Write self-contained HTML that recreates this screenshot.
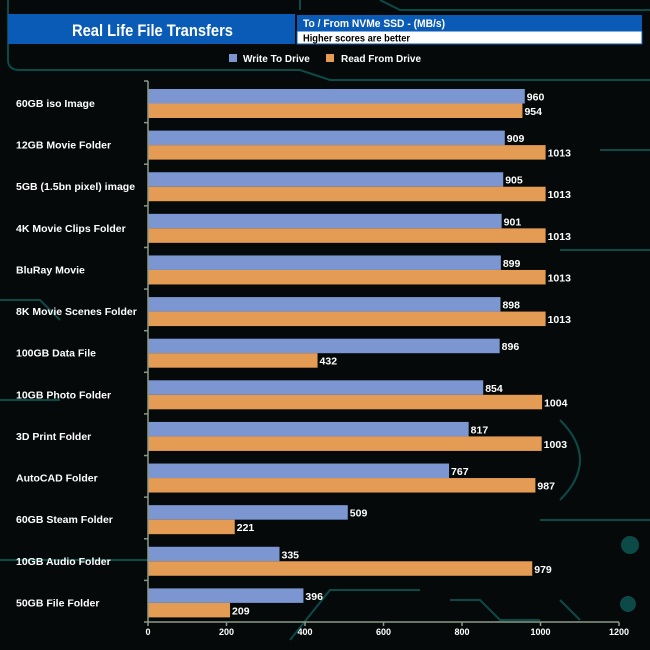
<!DOCTYPE html>
<html><head><meta charset="utf-8"><style>
body{margin:0;width:650px;height:650px;background:#060909;overflow:hidden;font-family:"Liberation Sans",Arial,sans-serif}
svg{display:block}
</style></head><body>
<svg width="650" height="650" xmlns="http://www.w3.org/2000/svg">
<g stroke="#0c4a48" stroke-width="2" fill="none">
<path d="M8 0 V60 Q8 70 20 70 H300 L330 80 H650"/>
<path d="M300 0 V10 M380 0 L400 10 H650"/>
<path d="M0 560 H150 M290 640 L330 590 H420"/>
<path d="M450 600 H480 L500 620 H540 M560 600 L580 620"/>
<path d="M600 150 H650 M560 250 H650 M560 420 Q600 460 560 500 M540 520 H650"/>
<circle cx="630" cy="545" r="8" fill="#0c4a48"/>
<circle cx="628" cy="604" r="7" fill="#0c4a48"/>
<path d="M0 400 H60 M0 300 L40 300 L60 320"/>
</g>
<rect x="8" y="14" width="287" height="30" fill="#0a5bb5"/>
<text x="72" y="36" textLength="161" lengthAdjust="spacingAndGlyphs" fill="#fff" font-size="17" font-weight="bold">Real Life File Transfers</text>
<rect x="297" y="15" width="345" height="16" fill="#0a5bb5"/>
<text x="303" y="27" textLength="142" lengthAdjust="spacingAndGlyphs" fill="#fff" font-size="11" font-weight="bold">To /  From NVMe  SSD - (MB/s)</text>
<rect x="297" y="31" width="345" height="13" fill="#fff" stroke="#0a5bb5"/>
<text x="303" y="41.5" textLength="107" lengthAdjust="spacingAndGlyphs" fill="#000" font-size="10.5" font-weight="bold">Higher scores are better</text>
<g font-size="10" font-weight="bold" fill="#fff">
<rect x="229" y="54" width="8" height="8" fill="#7b96d0"/>
<text x="243" y="62">Write To  Drive</text>
<rect x="326" y="54" width="8" height="8" fill="#e49b54"/>
<text x="341" y="62">Read From  Drive</text>
</g>
<g id="plot"></g>
</svg>
<script>
const categories=["60GB iso Image","12GB Movie Folder","5GB (1.5bn pixel) image","4K Movie Clips Folder","BluRay Movie","8K Movie Scenes Folder","100GB Data File","10GB Photo Folder","3D Print Folder","AutoCAD Folder","60GB Steam Folder","10GB Audio Folder","50GB File Folder"];
const writeValues=[960,909,905,901,899,898,896,854,817,767,509,335,396];
const readValues=[954,1013,1013,1013,1013,1013,432,1004,1003,987,221,979,209];
const ticks=[0,200,400,600,800,1000,1200];
const NS="http://www.w3.org/2000/svg";
const g=document.getElementById('plot');
const x0=148,x1=619,y0=81,y1=622,vmax=1200;
const band=(y1-y0)/categories.length;
const xs=v=>x0+v/vmax*(x1-x0);
function el(t,a){const e=document.createElementNS(NS,t);for(const k in a)e.setAttribute(k,a[k]);g.appendChild(e);return e;}
categories.forEach((c,i)=>{
 const top=y0+i*band+8;
 const wb=el('rect',{x:x0,y:top,width:xs(writeValues[i])-x0,height:14.5,fill:'#7b96d0'});
 
 
 const rb=el('rect',{x:x0,y:top+14.5,width:xs(readValues[i])-x0,height:14.5,fill:'#e49b54'});
 
 
 const wt=el('text',{x:xs(writeValues[i])+2,y:top+11.5,fill:'#fff','font-size':10.5,'font-weight':'bold'});wt.textContent=writeValues[i];
 
 
 const rt=el('text',{x:xs(readValues[i])+2,y:top+26,fill:'#fff','font-size':10.5,'font-weight':'bold'});rt.textContent=readValues[i];
 
 
 const ct=el('text',{x:16,y:top+18,fill:'#fff','font-size':10.5,'font-weight':'bold'});ct.textContent=c;
 
 
 const tk=el('line',{x1:x0-4,x2:x0,y1:y0+i*band,y2:y0+i*band,stroke:'#8a9a88','stroke-width':1.5});
 
 
});
const ya=el('line',{x1:x0,x2:x0,y1:y0,y2:y1,stroke:'#8a9a88','stroke-width':1.5});


const xa=el('line',{x1:x0-4,x2:x1,y1:y1,y2:y1,stroke:'#8a9a88','stroke-width':1.5});


ticks.forEach(t=>{
 const l=el('line',{x1:xs(t),x2:xs(t),y1:y1,y2:y1+4,stroke:'#8a9a88','stroke-width':1.5});
 
 
 const tx=el('text',{x:xs(t),y:y1+13,fill:'#fff','font-size':9,'font-weight':'bold','text-anchor':'middle'});tx.textContent=t;
 
 
});
</script>
</body></html>
